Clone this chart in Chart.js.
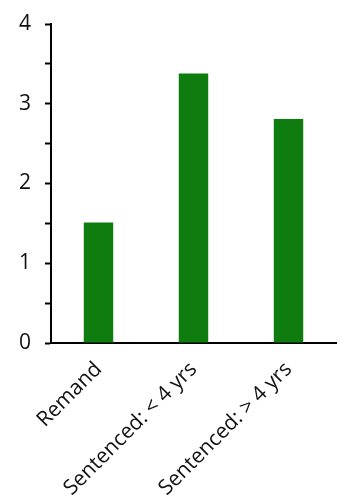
<!DOCTYPE html>
<html><head><meta charset="utf-8">
<script src="https://cdn.jsdelivr.net/npm/chart.js@4/dist/chart.umd.min.js"></script>
<style>html,body{margin:0;padding:0;background:#fff;}#wrap{width:342px;height:497px;}</style>
</head><body><div id="wrap"><canvas id="c" width="342" height="497"></canvas></div>
<script>
const categories = ["Remand", "Sentenced: < 4 yrs", "Sentenced: > 4 yrs"];
const values = [1.51, 3.38, 2.81];
const yTicks = [0, 1, 2, 3, 4];

new Chart(document.getElementById('c'), {
  type: 'bar',
  data: { labels: categories, datasets: [{ data: values, backgroundColor: '#0e7c0e', barPercentage: 0.31, categoryPercentage: 1 }] },
  options: {
    responsive: false, animation: false,
    layout: { padding: { top: 24, right: 6, left: 0, bottom: 0 } },
    plugins: { legend: { display: false }, tooltip: { enabled: false } },
    scales: {
      x: {
        grid: { display: false },
        border: { display: true, color: '#000', width: 2 },
        ticks: { color: '#111', font: { family: 'Open Sans', size: 21 }, maxRotation: 45, minRotation: 45, padding: 6 },
        afterFit: s => { s.height = 154; s.paddingLeft = 0; s.paddingRight = 0; }
      },
      y: {
        min: 0, max: 4,
        grid: { drawOnChartArea: false, drawTicks: true, tickLength: 6, tickColor: '#000', tickWidth: 2 },
        border: { display: true, color: '#000', width: 2 },
        ticks: { stepSize: 0.5, color: '#111', padding: 14, font: { family: 'Open Sans', size: 21 },
          callback: v => yTicks.includes(v) ? String(v) : '' },
        afterFit: s => { s.width = 51; s.paddingTop = 0; s.paddingBottom = 0; }
      }
    }
  }
});
</script></body></html>
